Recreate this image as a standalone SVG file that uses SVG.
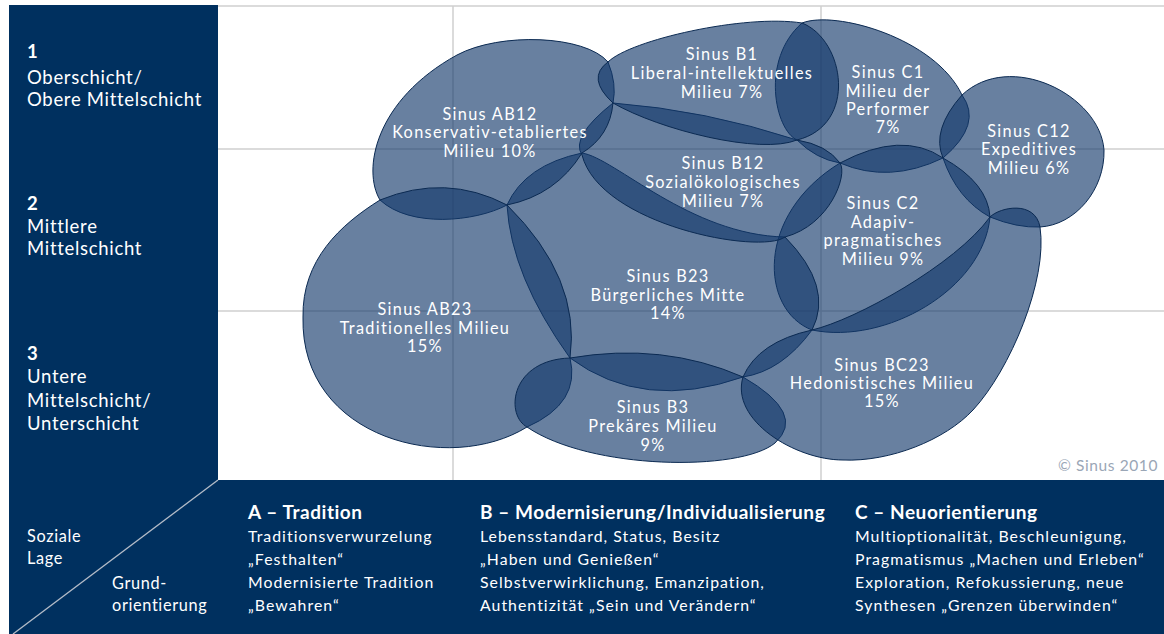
<svg xmlns="http://www.w3.org/2000/svg" width="1164" height="634" viewBox="0 0 1164 634">
<style>
.grid{stroke:#cfcfcf;stroke-width:1.5;fill:none}
.panel{fill:#00305f}
.blob{fill:#13396b;fill-opacity:0.64;stroke:#0b2a52;stroke-width:1}
.lbl{font-family:Lato,"Liberation Sans",sans-serif;font-size:16.3px;fill:#ffffff;text-anchor:middle;letter-spacing:1.3px}
.side{font-family:Lato,"Liberation Sans",sans-serif;font-size:18.5px;fill:#ffffff;letter-spacing:0.7px}
.small{font-size:16.3px;letter-spacing:0.65px}
.num{font-weight:bold}
.head{font-family:Lato,"Liberation Sans",sans-serif;font-size:19px;font-weight:bold;fill:#ffffff;letter-spacing:0.55px}
.desc{font-family:Lato,"Liberation Sans",sans-serif;font-size:15.8px;fill:#ffffff;letter-spacing:1.05px}
.copy{font-family:Lato,"Liberation Sans",sans-serif;font-size:15.5px;fill:#9aa6b6;letter-spacing:0.6px}
</style>
<rect width="1164" height="634" fill="#ffffff"/>
<g id="grid">
<line class="grid" x1="218" y1="6" x2="1164" y2="6"/>
<line class="grid" x1="218" y1="149" x2="1164" y2="149"/>
<line class="grid" x1="218" y1="311" x2="1164" y2="311"/>
<line class="grid" x1="453" y1="6" x2="453" y2="480"/>
<line class="grid" x1="821" y1="6" x2="821" y2="480"/>
</g>
<g id="panels">
<rect class="panel" x="9" y="5" width="209" height="629"/>
<rect class="panel" x="218" y="480" width="946" height="154"/>
<line x1="218" y1="480" x2="13" y2="634" stroke="#b4bcc8" stroke-width="1.3"/>
</g>
<g id="axis-social">
<text class="side num" x="27" y="58">1</text>
<text class="side" x="27" y="84">Oberschicht/</text>
<text class="side" x="27" y="106">Obere Mittelschicht</text>
<text class="side num" x="27" y="210">2</text>
<text class="side" x="27" y="233">Mittlere</text>
<text class="side" x="27" y="255">Mittelschicht</text>
<text class="side num" x="27" y="360">3</text>
<text class="side" x="27" y="383">Untere</text>
<text class="side" x="27" y="407">Mittelschicht/</text>
<text class="side" x="27" y="430">Unterschicht</text>
<text class="side small" x="27" y="542">Soziale</text>
<text class="side small" x="27" y="564">Lage</text>
<text class="side small" x="112" y="589">Grund-</text>
<text class="side small" x="112" y="611">orientierung</text>
</g>
<g id="axis-orientation">
<text class="head" x="248" y="519">A – Tradition</text>
<text class="desc" x="248" y="542">Traditionsverwurzelung</text>
<text class="desc" x="248" y="565">„Festhalten“</text>
<text class="desc" x="248" y="588">Modernisierte Tradition</text>
<text class="desc" x="248" y="611">„Bewahren“</text>
<text class="head" x="480" y="519">B – Modernisierung/Individualisierung</text>
<text class="desc" x="480" y="542">Lebensstandard, Status, Besitz</text>
<text class="desc" x="480" y="565">„Haben und Genießen“</text>
<text class="desc" x="480" y="588">Selbstverwirklichung, Emanzipation,</text>
<text class="desc" x="480" y="611">Authentizität „Sein und Verändern“</text>
<text class="head" x="855" y="519">C – Neuorientierung</text>
<text class="desc" x="855" y="542">Multioptionalität, Beschleunigung,</text>
<text class="desc" x="855" y="565">Pragmatismus „Machen und Erleben“</text>
<text class="desc" x="855" y="588">Exploration, Refokussierung, neue</text>
<text class="desc" x="855" y="611">Synthesen „Grenzen überwinden“</text>
</g>
<g id="milieus">
<g id="C1">
<path class="blob" d="M802,23 C835,10 935,38 962,95 Q983,124 943,158 Q889,184 840,163 Q816,159 797,140 C775,130 760,60 802,23 Z"/>
<text class="lbl" x="888" y="78">Sinus C1</text>
<text class="lbl" x="888" y="97">Milieu der</text>
<text class="lbl" x="888" y="115">Performer</text>
<text class="lbl" x="888" y="133">7%</text>
</g>
<g id="C12">
<path class="blob" d="M962,95 Q931,130 943,158 Q957,199 990,217 Q1017,228 1040,227 C1075,225 1105,190 1104,150 C1100,95 1010,50 962,95 Z"/>
<text class="lbl" x="1029" y="137">Sinus C12</text>
<text class="lbl" x="1029" y="155">Expeditives</text>
<text class="lbl" x="1029" y="174">Milieu 6%</text>
</g>
<g id="C2">
<path class="blob" d="M840,163 Q902,130 943,158 Q988,183 990,217 C983,290 885,345 812,330 C760,310 755,215 840,163 Z"/>
<text class="lbl" x="883" y="209">Sinus C2</text>
<text class="lbl" x="883" y="228">Adapiv-</text>
<text class="lbl" x="883" y="246">pragmatisches</text>
<text class="lbl" x="883" y="265">Milieu 9%</text>
</g>
<g id="B23">
<path class="blob" d="M507,205 Q525,165 582,153 C615,158 690,235 785,237 Q834,287 812,330 Q782,371 743,377 Q643,412 570,358 Q511,276 507,205 Z"/>
<text class="lbl" x="668" y="282">Sinus B23</text>
<text class="lbl" x="668" y="301">Bürgerliches Mitte</text>
<text class="lbl" x="668" y="319">14%</text>
</g>
<g id="B12">
<path class="blob" d="M613,103 Q705,110 797,140 Q827,145 840,163 C848,175 830,225 785,237 C760,255 600,225 582,155 Q570,137 613,103 Z"/>
<text class="lbl" x="723" y="169">Sinus B12</text>
<text class="lbl" x="723" y="188">Sozialökologisches</text>
<text class="lbl" x="723" y="207">Milieu 7%</text>
</g>
<g id="AB12">
<path class="blob" d="M608,62 Q617,84 613,103 Q610,136 582,153 Q556,195 507,205 C475,222 410,228 380,200 C362,170 375,100 457,55 C500,32 585,35 608,62 Z"/>
<text class="lbl" x="490" y="120">Sinus AB12</text>
<text class="lbl" x="490" y="138">Konservativ-etabliertes</text>
<text class="lbl" x="490" y="157">Milieu 10%</text>
</g>
<g id="B1">
<path class="blob" d="M608,62 C630,40 745,14 802,23 C845,40 858,125 797,140 C760,155 660,130 613,103 Q586,78 608,62 Z"/>
<text class="lbl" x="722" y="60">Sinus B1</text>
<text class="lbl" x="722" y="79">Liberal-intellektuelles</text>
<text class="lbl" x="722" y="98">Milieu 7%</text>
</g>
<g id="AB23">
<path class="blob" d="M380,200 Q446,173 507,205 Q581,278 570,358 Q581,403 527,427 C450,475 300,440 303,317 C302,260 340,225 380,200 Z"/>
<text class="lbl" x="425" y="315">Sinus AB23</text>
<text class="lbl" x="425" y="334">Traditionelles Milieu</text>
<text class="lbl" x="425" y="352">15%</text>
</g>
<g id="B3">
<path class="blob" d="M570,358 Q663,342 743,377 Q807,414 775,443 C740,472 590,470 527,427 C505,415 510,360 570,358 Z"/>
<text class="lbl" x="653" y="413">Sinus B3</text>
<text class="lbl" x="653" y="432">Prekäres Milieu</text>
<text class="lbl" x="653" y="451">9%</text>
</g>
<g id="BC23">
<path class="blob" d="M812,330 C855,320 955,265 990,217 C1000,207 1035,200 1040,227 C1048,280 1010,370 973,410 C945,440 890,462 843,460 C795,460 730,420 743,377 Q758,342 812,330 Z"/>
<text class="lbl" x="882" y="371">Sinus BC23</text>
<text class="lbl" x="882" y="389">Hedonistisches Milieu</text>
<text class="lbl" x="882" y="407">15%</text>
</g>
</g>
<text class="copy" x="1058" y="471">© Sinus 2010</text>
</svg>
